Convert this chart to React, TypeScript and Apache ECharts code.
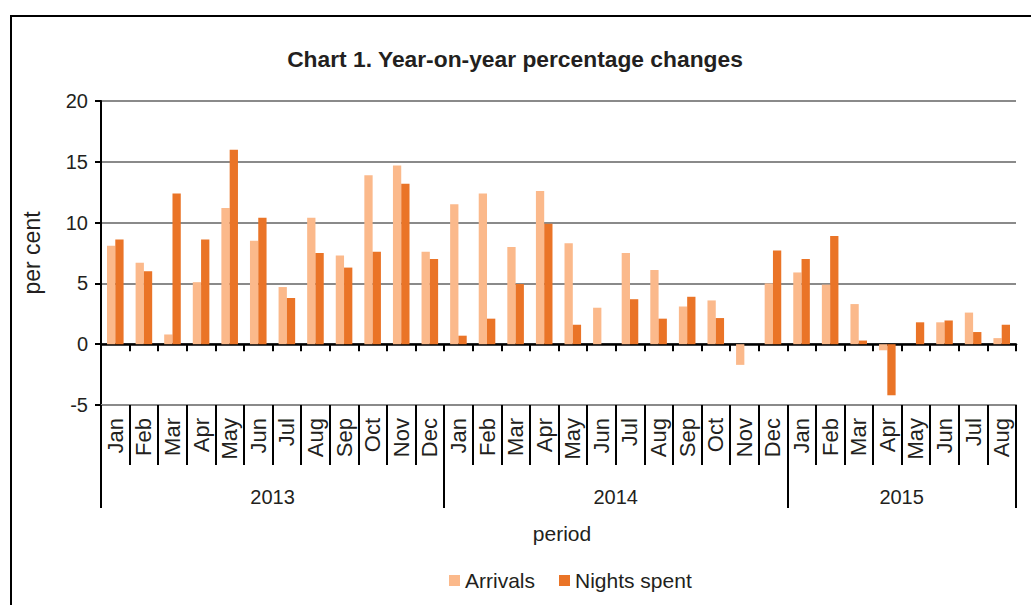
import React, { useEffect, useRef } from "react";
import * as echarts from "echarts";

const months = [
  "Jan", "Feb", "Mar", "Apr", "May", "Jun", "Jul", "Aug", "Sep", "Oct", "Nov", "Dec",
  "Jan", "Feb", "Mar", "Apr", "May", "Jun", "Jul", "Aug", "Sep", "Oct", "Nov", "Dec",
  "Jan", "Feb", "Mar", "Apr", "May", "Jun", "Jul", "Aug",
];
const years = ["2013", "2014", "2015"];
const yearStarts = [0, 12, 24, 32];

const arrivals = [
  8.1, 6.7, 0.8, 5.1, 11.2, 8.5, 4.7, 10.4, 7.3, 13.9, 14.7, 7.6,
  11.5, 12.4, 8.0, 12.6, 8.3, 3.0, 7.5, 6.1, 3.1, 3.6, -1.7, 5.0,
  5.9, 4.9, 3.3, -0.5, 0, 1.8, 2.6, 0.5,
];
const nightsSpent = [
  8.6, 6.0, 12.4, 8.6, 16.0, 10.4, 3.8, 7.5, 6.3, 7.6, 13.2, 7.0,
  0.7, 2.1, 4.95, 9.9, 1.6, 0, 3.7, 2.1, 3.9, 2.15, 0, 7.7,
  7.0, 8.9, 0.3, -4.2, 1.8, 1.95, 1.0, 1.6,
];
const yTicks = { min: -5, max: 20, interval: 5 };

const FONT = "'Liberation Sans', Arial, sans-serif";
const TXT = "#231f20";

export default function App() {
  const ref = useRef<HTMLDivElement>(null);
  useEffect(() => {
    if (!ref.current) return;
    const chart = echarts.init(ref.current, undefined, { renderer: "svg" });
    const yearMid = years.map((_, i) => (yearStarts[i] + yearStarts[i + 1]) / 2);
    chart.setOption({
      animation: false,
      backgroundColor: "#fff",
      textStyle: { fontFamily: FONT },
      title: {
        text: "Chart 1. Year-on-year percentage changes",
        left: 510,
        top: 42,
        textAlign: "center",
        textStyle: { fontSize: 22.8, fontWeight: "bold", color: TXT, fontFamily: FONT },
      },
      legend: {
        left: 444,
        top: 565,
        icon: "rect",
        itemWidth: 11,
        itemHeight: 11,
        itemGap: 24,
        textStyle: { fontSize: 21, color: TXT, fontFamily: FONT },
        data: ["Arrivals", "Nights spent"],
      },
      grid: { left: 101, right: 15, top: 101, bottom: 200, containLabel: false },
      xAxis: [
        {
          type: "category",
          data: months,
          position: "bottom",
          axisLine: { onZero: false, lineStyle: { color: "#8a8a8a", width: 2 } },
          axisTick: { show: true, interval: 0, length: 60, lineStyle: { color: "#000", width: 2 } },
          axisLabel: { interval: 0, rotate: 90, fontSize: 22, margin: 13, color: TXT, fontFamily: FONT },
          splitLine: { show: false },
        },
        {
          type: "value",
          min: 0,
          max: 32,
          position: "bottom",
          offset: 60,
          axisLine: { show: false, onZero: false },
          axisTick: { show: true, customValues: yearStarts, length: 43, lineStyle: { color: "#000", width: 2 } },
          axisLabel: {
            customValues: yearMid,
            formatter: (v: number) => {
              const i = yearMid.indexOf(v);
              return i >= 0 ? years[i] : "";
            },
            fontSize: 20,
            margin: 22,
            color: TXT,
            fontFamily: FONT,
          },
          splitLine: { show: false },
        },
        {
          type: "category",
          data: months,
          position: "bottom",
          axisLine: { onZero: true, lineStyle: { color: "#000", width: 2.5 } },
          axisTick: { show: true, interval: 0, length: 7, lineStyle: { color: "#000", width: 2 } },
          axisLabel: { show: false },
          splitLine: { show: false },
        },
      ],
      yAxis: {
        type: "value",
        min: yTicks.min,
        max: yTicks.max,
        interval: yTicks.interval,
        name: "per cent",
        nameLocation: "middle",
        nameRotate: 90,
        nameGap: 58,
        nameTextStyle: { fontSize: 23, color: TXT, fontFamily: FONT },
        axisLine: { show: true, onZero: false, lineStyle: { color: "#000", width: 2 } },
        axisTick: { show: true, length: 6, lineStyle: { color: "#000", width: 2 } },
        axisLabel: { fontSize: 20, margin: 13, color: TXT, fontFamily: FONT },
        splitLine: { show: true, lineStyle: { color: "#8a8a8a", width: 2 } },
      },
      graphic: [
        {
          type: "rect",
          shape: { x: 11, y: 16, width: 1040, height: 620 },
          style: { fill: "none", stroke: "#000", lineWidth: 2 },
          z: 100,
        },
        {
          type: "text",
          x: 562,
          y: 533,
          style: {
            text: "period",
            fontSize: 21,
            fill: TXT,
            fontFamily: FONT,
            textAlign: "center",
            textVerticalAlign: "middle",
          },
        },
      ],
      series: [
        {
          name: "Arrivals",
          type: "bar",
          xAxisIndex: 0,
          data: arrivals,
          barGap: "0%",
          barCategoryGap: "42%",
          itemStyle: { color: "#fbb98b" },
        },
        {
          name: "Nights spent",
          type: "bar",
          xAxisIndex: 0,
          data: nightsSpent,
          barGap: "0%",
          barCategoryGap: "42%",
          itemStyle: { color: "#ea7427" },
        },
      ],
    });
    return () => chart.dispose();
  }, []);
  return (
    <div
      ref={ref}
      style={{ position: "fixed", left: 0, top: 0, width: 1031, height: 605 }}
    />
  );
}
